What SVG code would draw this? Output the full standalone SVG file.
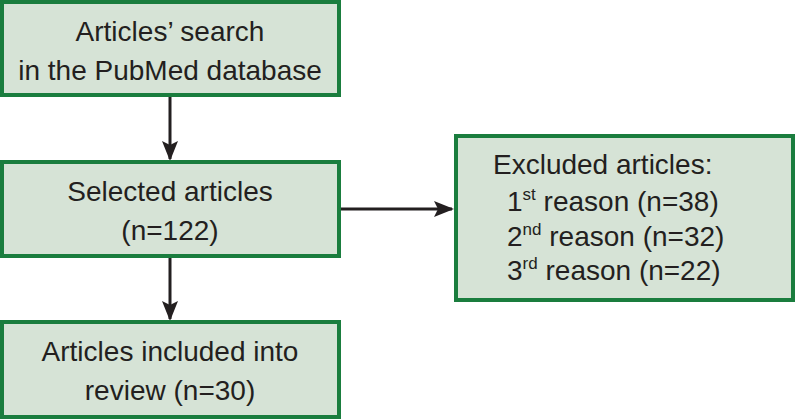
<svg xmlns="http://www.w3.org/2000/svg" width="795" height="419" viewBox="0 0 795 419">
<style>
.box{fill:#d6e3d6;stroke:#1a7d3e;stroke-width:4}
text{font-family:"Liberation Sans",Arial,sans-serif;font-size:28px;fill:#231f20}
.c{text-anchor:middle}
.sup{font-size:17px}
.line{stroke:#231f20;stroke-width:3;fill:none}
</style>
<defs>
<marker id="ah" markerWidth="10" markerHeight="8" refX="9" refY="4" orient="auto" markerUnits="userSpaceOnUse" viewBox="0 0 10 8">
<path d="M0,0 L10,4 L0,8 z" fill="#231f20"/>
</marker>
<marker id="ahl" markerWidth="20" markerHeight="16" refX="18" refY="8" orient="auto" markerUnits="userSpaceOnUse" viewBox="0 0 20 16">
<path d="M0,0 L20,8 L0,16 L4,8 z" fill="#231f20"/>
</marker>
</defs>
<g id="connectors">
<line class="line" x1="170" y1="96" x2="170" y2="159" marker-end="url(#ahl)"/>
<line class="line" x1="170" y1="257" x2="170" y2="319" marker-end="url(#ahl)"/>
<line class="line" x1="340" y1="209" x2="452" y2="209" marker-end="url(#ahl)"/>
</g>
<g id="search">
<rect class="box" x="2" y="2" width="337" height="93"/>
<text class="c" x="170" y="41">Articles’ search</text>
<text class="c" x="170" y="80">in the PubMed database</text>
</g>
<g id="selected">
<rect class="box" x="2" y="162" width="337" height="94"/>
<text class="c" x="170" y="201">Selected articles</text>
<text class="c" x="170" y="240">(n=122)</text>
</g>
<g id="included">
<rect class="box" x="2" y="322" width="337" height="95"/>
<text class="c" x="170" y="361">Articles included into</text>
<text class="c" x="170" y="400">review (n=30)</text>
</g>
<g id="excluded">
<rect class="box" x="456" y="136" width="337" height="164"/>
<text x="493" y="174">Excluded articles:</text>
<text x="507" y="211">1<tspan class="sup" dy="-11">st</tspan><tspan dy="11"> reason (n=38)</tspan></text>
<text x="507" y="246">2<tspan class="sup" dy="-11">nd</tspan><tspan dy="11"> reason (n=32)</tspan></text>
<text x="507" y="280">3<tspan class="sup" dy="-11">rd</tspan><tspan dy="11"> reason (n=22)</tspan></text>
</g>
</svg>
